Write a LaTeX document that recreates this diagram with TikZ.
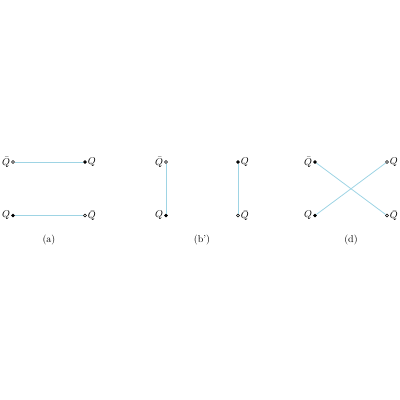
\documentclass[tikz,border=0pt]{standalone}
\usepackage{xcolor}
\usepackage{tikz}
\usetikzlibrary{arrows}
\definecolor{lineblue}{RGB}{158,212,228}

\begin{document}
\begin{tikzpicture}[x=1pt,y=1pt,node distance=72pt]
      \tikzstyle{line} = [draw=lineblue, line width=0.8pt]
      \tikzstyle{quark} = [circle, draw=black, fill=black, inner sep=0pt, minimum size=3pt, line width=0.4pt]
      \tikzstyle{antiquark} = [quark, fill=white]
      \tikzstyle{every label} = [inner sep=1pt]
      \useasboundingbox (0,0) rectangle (400,-400);
      %nodes (a)
      \node[antiquark, label={left:$\bar{Q}$}]  (aQbar1) at (13,-162) {};
      \node[quark, label={right:$Q$}]           (aQ1)    [right of=aQbar1] {};
      \node[quark, label={left:$Q$}]            (aQ2)    [node distance=53.5pt, below of=aQbar1] {};
      \node[antiquark, label={right:$\bar{Q}$}] (aQbar2) [right of=aQ2] {};
      \node                                     (atext)  [node distance=24.5pt, below of=aQ2, xshift=36pt] {(a)};
      %nodes (b')
      \node[antiquark, label={left:$\bar{Q}$}]  (bQbar1) at (166,-162) {};
      \node[quark, label={left:$Q$}]            (bQ1)    [node distance=53.5pt, below of=bQbar1] {};
      \node[quark, label={right:$Q$}]           (bQ2)    [right of=bQbar1] {};
      \node[antiquark, label={right:$\bar{Q}$}] (bQbar2) [right of=bQ1] {};
      \node                                     (btext)  [node distance=24.5pt, below of=bQ1, xshift=36pt] {(b')};
      %nodes (d)
      \node[quark, label={left:$\bar{Q}$}]      (dQbar1) at (315,-162) {};
      \node[quark, label={left:$Q$}]            (dQ1)    [node distance=53.5pt, below of=dQbar1] {};
      \node[antiquark, label={right:$Q$}]       (dQ2)    [right of=dQbar1] {};
      \node[antiquark, label={right:$\bar{Q}$}] (dQbar2) [right of=dQ1] {};
      \node                                     (dtext)  [node distance=24.5pt, below of=dQ1, xshift=36pt] {(d)};

      %lines
      \path [line] (aQbar1) edge (aQ1);
      \path [line] (aQ2) edge (aQbar2);
      \path [line] (bQbar1) edge (bQ1);
      \path [line] (bQ2) edge (bQbar2);
      \path [line] (dQbar1) edge (dQbar2);
      \path [line] (dQ1) edge (dQ2);
    \end{tikzpicture}
\end{document}
